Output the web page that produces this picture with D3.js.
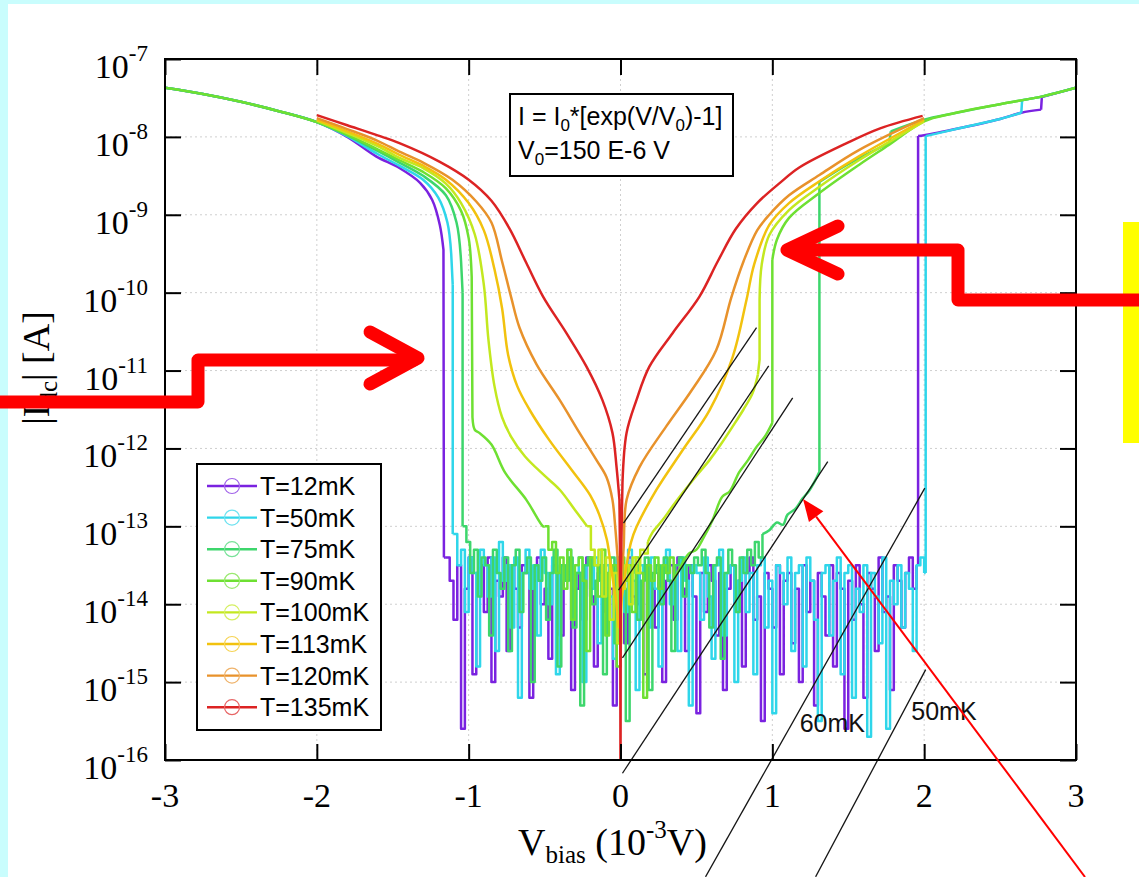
<!DOCTYPE html>
<html><head><meta charset="utf-8">
<script src="https://cdn.jsdelivr.net/npm/d3@7"></script>
<style>body{margin:0;background:#c9fdfd;} svg{display:block}</style>
</head><body><svg id="chart" width="1139" height="877"></svg>
<script>
// ---------------- DATA (log10 of |I| in A, V in mV) ----------------
const TEMPS = ["T=12mK","T=50mK","T=75mK","T=90mK","T=100mK","T=113mK","T=120mK","T=135mK"];
const COLORS = ["#7a22e0","#2fd6ea","#3dd66c","#6ee032","#c3e81f","#f2c20e","#e8922b","#dc2323"];
const X_TICKS = [-3,-2,-1,0,1,2,3];
const Y_EXPONENTS = [-16,-15,-14,-13,-12,-11,-10,-9,-8,-7];
const NOISE_STEP = 0.025;

const TOP_LEFT = [[-3,-7.37],[-2.75,-7.45],[-2.5,-7.55],[-2.25,-7.67],[-2.0,-7.81]];

const S12_LEFT = [[-1.8,-8.0],[-1.61,-8.25],[-1.456,-8.40],[-1.32,-8.59],[-1.24,-8.81],[-1.19,-9.13],[-1.166,-9.45],[-1.163,-13.4],[-1.15,-13.4]];
const NOISE12_START = -1.15;
const NOISE12 = [-13.4,-13.7,-14.2,-13.5,-15.6,-13.8,-13.4,-14.9,-13.6,-13.5,
 -14.1,-13.4,-15.0,-13.7,-13.9,-13.4,-14.6,-13.5,-13.8,-14.3,
 -13.5,-13.6,-15.2,-13.7,-13.4,-14.0,-13.8,-14.7,-13.5,-13.6,
 -14.4,-13.7,-13.5,-15.1,-13.8,-13.6,-14.2,-13.4,-13.9,-14.8,
 -13.6,-13.5,-14.1,-13.8,-15.3,-13.6,-13.7,-14.5,-13.4,-13.9,
 -14.0,-13.6,-14.9,-13.5,-13.8,-14.3,-13.6,-15.0,-13.7,-13.5,
 -14.2,-13.4,-13.8,-14.6,-13.5,-13.9,-15.4,-13.6,-14.1,-13.5,
 -13.7,-14.4,-13.6,-15.1,-13.8,-13.5,-14.0,-13.7,-14.8,-13.6,
 -13.4,-14.2,-13.9,-15.5,-13.6,-13.8,-14.3,-13.5,-14.9,-13.7,
 -13.6,-14.5,-13.8,-15.0,-13.5,-14.1,-13.7,-15.3,-13.6,-13.9,
 -14.4,-13.5,-14.8,-13.6,-13.8,-15.6,-13.7,-14.2,-13.5,-14.0,
 -15.2,-13.6,-13.8,-14.6,-13.4,-14.1,-13.9,-15.1,-13.5,-13.7,
 -14.3,-13.6,-13.4,-13.8,-13.5];
const S12_RIGHT = [[1.95,-13.5],[1.96,-13.5],[1.96,-7.99],[2.0,-7.98],[2.23,-7.89],[2.5,-7.77],[2.64,-7.69],[2.77,-7.65],[2.775,-7.49],[3.0,-7.37]];

const S50_LEFT = [[-1.8,-7.99],[-1.6,-8.22],[-1.456,-8.37],[-1.3,-8.55],[-1.2,-8.78],[-1.14,-9.1],[-1.115,-9.5],[-1.105,-9.9],[-1.105,-13.1],[-1.1,-13.1]];
const NOISE50_START = -1.1;
const NOISE50 = [-13.1,-13.5,-13.3,-14.1,-13.4,-13.6,-14.8,-13.3,-13.5,-13.9,
 -13.4,-14.6,-13.2,-13.7,-13.5,-14.3,-13.4,-15.2,-13.6,-13.3,
 -13.8,-13.5,-14.4,-13.3,-13.6,-14.0,-13.4,-14.9,-13.5,-13.7,
 -13.3,-14.2,-13.6,-13.4,-15.0,-13.5,-13.8,-13.4,-14.5,-13.6,
 -13.5,-13.9,-14.7,-13.4,-13.6,-14.1,-13.3,-13.7,-15.1,-13.5,
 -13.6,-14.3,-13.4,-13.8,-14.8,-13.5,-13.3,-14.0,-13.6,-14.6,
 -13.4,-13.7,-15.3,-13.5,-13.6,-14.2,-13.4,-13.9,-14.7,-13.5,
 -13.3,-14.4,-13.6,-13.5,-15.0,-13.7,-13.4,-14.1,-13.6,-14.9,
 -13.5,-13.4,-14.3,-13.7,-15.4,-13.5,-13.6,-14.0,-13.4,-14.6,
 -13.6,-13.5,-14.8,-13.4,-13.7,-14.2,-15.5,-13.6,-13.5,-14.4,
 -13.7,-13.4,-14.9,-13.6,-13.5,-15.2,-13.8,-14.1,-13.5,-15.7,
 -13.6,-13.9,-14.5,-13.4,-15.6,-13.7,-14.0,-13.5,-14.3,-13.6,
 -13.8,-14.6,-13.5,-13.4,-13.6];
const S50_RIGHT = [[2.0,-13.6],[2.01,-13.6],[2.01,-7.99],[2.23,-7.89],[2.5,-7.77],[2.64,-7.69],[2.645,-7.53],[2.78,-7.48],[3.0,-7.37]];

const S75_LEFT = [[-1.8,-7.98],[-1.6,-8.18],[-1.456,-8.33],[-1.3,-8.5],[-1.15,-8.75],[-1.08,-9.1],[-1.05,-9.6],[-1.04,-10.0],[-1.04,-13.0]];
const NOISE75_START = -1.04;
const NOISE75 = [-13.0,-13.2,-13.6,-13.3,-13.9,-13.4,-13.5,-14.4,-13.3,-13.6,
 -13.8,-13.4,-14.6,-13.5,-13.3,-14.1,-13.6,-13.4,-15.0,-13.5,
 -13.7,-13.4,-14.2,-13.6,-13.3,-14.8,-13.5,-13.7,-13.4,-14.3,
 -13.6,-15.3,-13.5,-13.4,-14.0,-13.7,-13.5,-14.9,-13.6,-13.4,
 -14.5,-13.5,-13.8,-15.5,-13.6,-13.5,-14.2,-13.7,-13.4,-15.1,
 -13.6,-13.5,-14.0,-13.4,-13.7,-14.6,-13.5,-13.4,-13.9,-13.5,
 -13.6,-13.4,-13.5,-13.3,-13.6,-14.3,-13.5,-13.4,-14.7,-13.6,
 -13.3,-13.5,-14.1,-13.4,-13.6,-13.3,-13.5,-13.2,-13.4,-13.1];
const S75_RIGHT = [[0.935,-13.1],[0.98,-13.05],[1.03,-12.95],[1.07,-12.98],[1.1,-12.85],[1.15,-12.78],[1.2,-12.64],[1.24,-12.55],[1.28,-12.42],[1.31,-12.3],[1.31,-8.58],[1.49,-8.36],[1.77,-8.08],[1.78,-7.93],[2.0,-7.78],[2.19,-7.70],[2.5,-7.58],[2.78,-7.48],[3.0,-7.37]];

const S90_LEFT = [[-1.8,-7.97],[-1.6,-8.16],[-1.456,-8.3],[-1.3,-8.45],[-1.15,-8.66],[-1.05,-8.95],[-1.0,-9.3],[-0.98,-9.8],[-0.975,-11.6],[-0.96,-11.76],[-0.93,-11.8],[-0.85,-11.95],[-0.76,-12.31],[-0.62,-12.66],[-0.51,-13.0],[-0.5,-13.0]];
const NOISE90_START = -0.5;
const NOISE90 = [-13.0,-13.3,-13.2,-13.6,-13.4,-13.8,-13.3,-14.2,-13.5,-13.4,
 -13.7,-14.6,-13.4,-13.5,-13.9,-13.3,-14.4,-13.6,-13.5,-14.8,
 -13.4,-13.7,-13.5,-14.1,-13.4,-13.6,-15.2,-13.5,-13.7,-13.4,
 -13.8,-13.5,-13.6,-13.4,-13.7];
const S90_RIGHT = [[0.35,-13.7],[0.4,-13.5],[0.45,-13.35],[0.5,-13.3],[0.54,-13.17],[0.606,-12.92],[0.67,-12.62],[0.72,-12.55],[0.78,-12.31],[0.84,-12.15],[0.896,-11.98],[0.95,-11.85],[1.0,-11.67],[1.0,-9.58],[1.03,-9.32],[1.11,-9.04],[1.31,-8.72],[1.57,-8.36],[1.77,-8.1],[2.0,-7.8],[2.19,-7.70],[2.5,-7.58],[2.78,-7.48],[3.0,-7.37]];

const S100_LEFT = [[-2,-7.79],[-1.8,-7.95],[-1.6,-8.12],[-1.456,-8.27],[-1.3,-8.4],[-1.15,-8.6],[-1.05,-8.85],[-0.96,-9.25],[-0.9,-9.9],[-0.87,-10.6],[-0.83,-11.2],[-0.78,-11.6],[-0.72,-11.85],[-0.63,-12.1],[-0.5,-12.35],[-0.4,-12.53],[-0.3,-12.79],[-0.22,-13.0]];
const NOISE100_START = -0.22;
const NOISE100 = [-13.0,-13.3,-13.5,-13.3,-13.9,-13.4,-14.2,-13.6,-14.5,-13.8,-13.5,-14.0,-13.4,-13.6,-13.3,-13.35,-13.2];
const S100_RIGHT = [[0.18,-13.2],[0.21,-13.08],[0.277,-12.92],[0.34,-12.75],[0.41,-12.57],[0.5,-12.35],[0.586,-12.15],[0.66,-11.95],[0.738,-11.72],[0.81,-11.5],[0.87,-11.29],[0.905,-11.05],[0.916,-10.86],[0.916,-10.09],[0.93,-9.64],[0.98,-9.26],[1.11,-8.94],[1.31,-8.64],[1.57,-8.30],[2.0,-7.80]];

const S113 = [[-2,-7.78],[-1.8,-7.93],[-1.6,-8.09],[-1.456,-8.23],[-1.3,-8.37],[-1.15,-8.55],[-1.0,-8.85],[-0.9,-9.2],[-0.83,-9.7],[-0.78,-10.2],[-0.74,-10.8],[-0.68,-11.2],[-0.6,-11.5],[-0.47,-11.89],[-0.32,-12.28],[-0.2,-12.6],[-0.14,-12.85],[-0.09,-13.17],[-0.06,-13.56],[-0.03,-13.94],[-0.01,-14.3],[0.01,-13.9],[0.04,-13.5],[0.07,-13.2],[0.105,-13.01],[0.237,-12.53],[0.41,-12.02],[0.586,-11.51],[0.738,-10.83],[0.83,-10.09],[0.88,-9.64],[0.98,-9.13],[1.11,-8.85],[1.31,-8.57],[1.57,-8.25],[2.0,-7.78]];

const S120 = [[-2,-7.76],[-1.8,-7.9],[-1.6,-8.05],[-1.456,-8.19],[-1.3,-8.33],[-1.107,-8.55],[-0.95,-8.83],[-0.85,-9.1],[-0.78,-9.6],[-0.72,-10.06],[-0.665,-10.45],[-0.553,-10.92],[-0.40,-11.38],[-0.27,-11.80],[-0.158,-12.15],[-0.092,-12.37],[-0.053,-12.66],[-0.033,-13.05],[-0.015,-13.5],[0.0,-13.8],[0.02,-13.3],[0.04,-12.66],[0.125,-12.24],[0.30,-11.72],[0.47,-11.25],[0.63,-10.74],[0.73,-10.06],[0.81,-9.6],[0.9,-9.2],[0.98,-9.0],[1.11,-8.75],[1.31,-8.49],[1.57,-8.17],[2.0,-7.76]];

const S135 = [[-2,-7.72],[-1.8,-7.85],[-1.6,-7.98],[-1.456,-8.08],[-1.19,-8.32],[-1.0,-8.55],[-0.85,-8.82],[-0.73,-9.18],[-0.62,-9.62],[-0.51,-10.05],[-0.356,-10.52],[-0.224,-10.95],[-0.119,-11.38],[-0.053,-11.80],[-0.026,-12.24],[-0.007,-12.66],[-0.002,-13.6],[0,-16.5],[0.002,-13.6],[0.013,-12.44],[0.04,-11.80],[0.105,-11.38],[0.19,-10.95],[0.343,-10.52],[0.52,-10.05],[0.64,-9.6],[0.76,-9.18],[0.9,-8.85],[1.05,-8.59],[1.18,-8.39],[1.49,-8.08],[1.71,-7.89],[1.99,-7.73]];

// exponential fits (V in mV, log10 I)
const FIT_LINES = [
  [[0.02,-12.96],[0.896,-10.45]],
  [[-0.013,-13.82],[0.976,-10.94]],
  [[0.013,-14.69],[1.134,-11.35]],
  [[0.013,-16.17],[1.365,-12.17]],
  [[0.56,-17.50],[2.004,-12.51]],
  [[1.285,-17.50],[2.01,-14.84]]
];
const FIT_LABELS = [["60mK",1.18,-15.64],["50mK",1.915,-15.49]];

// ---------------- CHART ----------------
const W = 1139, H = 877;
const svg = d3.select("#chart");
const M = {l:165, r:1076, t:59, b:760};
const x = d3.scaleLinear().domain([-3,3]).range([M.l, M.r]);
const y = d3.scaleLog().domain([1e-16,1e-7]).range([M.b, M.t]);
const px = d => x(d[0]), py = d => y(Math.pow(10, d[1]));
const lineLin = d3.line().x(px).y(py);
const lineSmooth = d3.line().x(px).y(py).curve(d3.curveCatmullRom.alpha(0.5));
const lineStep = d3.line().x(px).y(py).curve(d3.curveStepAfter);
const noisePts = (start, arr) => arr.map((v,i) => [start + i*NOISE_STEP, v]);

// split a point list at vertical jumps: smooth runs + straight vertical pieces
function smoothWithJumps(pts) {
  const out = [];
  let run = [pts[0]];
  for (let i = 1; i < pts.length; i++) {
    const a = pts[i-1], b = pts[i];
    if (Math.abs(b[0]-a[0]) < 0.012 && Math.abs(b[1]-a[1]) > 0.1) {
      if (run.length > 1) out.push(lineSmooth(run));
      out.push(lineLin([a,b]));
      run = [b];
    } else run.push(b);
  }
  if (run.length > 1) out.push(lineSmooth(run));
  return out.join("");
}

svg.append("rect").attr("width",W).attr("height",H).attr("fill","#c9fdfd");
svg.append("rect").attr("x",8).attr("y",4).attr("width",W-8).attr("height",H-4).attr("fill","#fff");

// grid
const grid = svg.append("g").attr("stroke","#cfcfcf").attr("stroke-width",1).attr("stroke-dasharray","2,3");
X_TICKS.slice(1,-1).forEach(v => grid.append("line").attr("x1",x(v)).attr("x2",x(v)).attr("y1",M.t).attr("y2",M.b));
Y_EXPONENTS.slice(1,-1).forEach(e => grid.append("line").attr("x1",M.l).attr("x2",M.r).attr("y1",y(Math.pow(10,e))).attr("y2",y(Math.pow(10,e))));

// curves
svg.append("clipPath").attr("id","clip").append("rect").attr("x",M.l).attr("y",M.t).attr("width",M.r-M.l).attr("height",M.b-M.t);
const cg = svg.append("g").attr("clip-path","url(#clip)").attr("fill","none").attr("stroke-width",2.5).attr("stroke-linejoin","round");

const series = [
  [{p:TOP_LEFT.concat(S12_LEFT)}, {n:noisePts(NOISE12_START, NOISE12)}, {p:S12_RIGHT}],
  [{p:TOP_LEFT.concat(S50_LEFT)}, {n:noisePts(NOISE50_START, NOISE50)}, {p:S50_RIGHT}],
  [{p:TOP_LEFT.concat(S75_LEFT)}, {n:noisePts(NOISE75_START, NOISE75)}, {p:S75_RIGHT}],
  [{p:TOP_LEFT.concat(S90_LEFT)}, {n:noisePts(NOISE90_START, NOISE90)}, {p:S90_RIGHT}],
  [{p:S100_LEFT}, {n:noisePts(NOISE100_START, NOISE100)}, {p:S100_RIGHT}],
  [{p:S113}],
  [{p:S120}],
  [{p:S135}]
];
series.forEach((segs, i) => {
  segs.forEach(s => cg.append("path")
    .attr("d", s.n ? lineStep(s.n) : smoothWithJumps(s.p))
    .attr("stroke", COLORS[i]));
});

// fit lines
const fg = svg.append("g").attr("stroke","#151515").attr("stroke-width",1.3).attr("fill","none");
FIT_LINES.forEach(l => fg.append("path").attr("d", lineLin(l)));

// frame and ticks
const ax = svg.append("g").attr("stroke","#000").attr("stroke-width",2);
const tickAxis = (gen, tr) => {
  const g = svg.append("g").attr("transform", tr).call(gen);
  g.select(".domain").remove();
  g.selectAll(".tick line").attr("stroke","#000").attr("stroke-width",2);
  g.selectAll(".tick text").remove();
};
const yTicks = Y_EXPONENTS.map(e => Math.pow(10,e));
tickAxis(d3.axisBottom(x).tickValues(X_TICKS).tickSize(-16), `translate(0,${M.b})`);
tickAxis(d3.axisTop(x).tickValues(X_TICKS).tickSize(-16), `translate(0,${M.t})`);
tickAxis(d3.axisLeft(y).tickValues(yTicks).tickSize(-16), `translate(${M.l},0)`);
tickAxis(d3.axisRight(y).tickValues(yTicks).tickSize(-16), `translate(${M.r},0)`);
ax.append("rect").attr("x",M.l).attr("y",M.t).attr("width",M.r-M.l).attr("height",M.b-M.t).attr("fill","none");

// tick labels
const serif = "'Liberation Serif','Times New Roman',serif";
const sans = "'Liberation Sans',Arial,sans-serif";
X_TICKS.forEach(v => svg.append("text").attr("x",x(v)).attr("y",807).attr("text-anchor","middle")
  .attr("font-family",serif).attr("font-size",34).text(String(v)));
Y_EXPONENTS.forEach(e => {
  const t = svg.append("text").attr("x",148).attr("y",y(Math.pow(10,e))+19).attr("text-anchor","end")
    .attr("font-family",serif).attr("font-size",34);
  t.append("tspan").text("10");
  t.append("tspan").attr("dy",-17).attr("font-size",23).text(String(e));
});

// axis titles
const xt = svg.append("text").attr("x",518).attr("y",855).attr("font-family",serif).attr("font-size",38);
xt.append("tspan").text("V");
xt.append("tspan").attr("dy",8).attr("font-size",25).text("bias");
xt.append("tspan").attr("dy",-8).text(" (10");
xt.append("tspan").attr("dy",-17).attr("font-size",25).text("-3");
xt.append("tspan").attr("dy",17).text("V)");

const yt = svg.append("text").attr("transform","translate(49,368) rotate(-90)").attr("text-anchor","middle")
  .attr("font-family",serif).attr("font-size",38);
yt.append("tspan").text("|I");
yt.append("tspan").attr("dy",8).attr("font-size",25).text("dc");
yt.append("tspan").attr("dy",-8).text("| [A]");

// legend
const lg = svg.append("g");
lg.append("rect").attr("x",197).attr("y",464).attr("width",184).attr("height",266).attr("fill","#fff").attr("stroke","#000").attr("stroke-width",2);
TEMPS.forEach((t,i) => {
  const cy = 486 + i*31.6;
  lg.append("line").attr("x1",207).attr("x2",257).attr("y1",cy).attr("y2",cy).attr("stroke",COLORS[i]).attr("stroke-width",2.4);
  lg.append("circle").attr("cx",232).attr("cy",cy).attr("r",7.5).attr("fill","none")
    .attr("stroke",d3.interpolateRgb(COLORS[i],"#ffffff")(0.3)).attr("stroke-width",1.2);
  lg.append("text").attr("x",260).attr("y",cy+9).attr("font-family",sans).attr("font-size",25).text(t);
});

// formula box
svg.append("rect").attr("x",510).attr("y",94).attr("width",223).attr("height",82).attr("fill","#fff").attr("stroke","#000").attr("stroke-width",2);
const f1 = svg.append("text").attr("x",518).attr("y",125).attr("font-family",sans).attr("font-size",25);
f1.append("tspan").text("I = I");
f1.append("tspan").attr("dy",6).attr("font-size",17).text("0");
f1.append("tspan").attr("dy",-6).text("*[exp(V/V");
f1.append("tspan").attr("dy",6).attr("font-size",17).text("0");
f1.append("tspan").attr("dy",-6).text(")-1]");
const f2 = svg.append("text").attr("x",518).attr("y",159).attr("font-family",sans).attr("font-size",25);
f2.append("tspan").text("V");
f2.append("tspan").attr("dy",6).attr("font-size",17).text("0");
f2.append("tspan").attr("dy",-6).text("=150 E-6 V");

// fit labels
FIT_LABELS.forEach(l => svg.append("text").attr("x",x(l[1])).attr("y",y(Math.pow(10,l[2])))
  .attr("font-family",sans).attr("font-size",25).attr("fill","#111").text(l[0]));

// annotations: yellow bar and red arrows
svg.append("rect").attr("x",1123).attr("y",222).attr("width",16).attr("height",221).attr("fill","#ffff00");
const red = "#ff0000";
const poly = d3.line();
const thick = svg.append("g").attr("fill","none").attr("stroke",red).attr("stroke-width",13)
  .attr("stroke-linejoin","round").attr("stroke-linecap","round");
thick.append("path").attr("d", poly([[-10,402],[198,402],[198,360],[414,360]]));
thick.append("path").attr("d", poly([[370,332],[418,358],[370,384]]));
thick.append("path").attr("d", poly([[1150,300],[958,300],[958,250],[792,250]]));
thick.append("path").attr("d", poly([[838,226],[787,250],[838,274]]));

const tail = [1085,877], tip = [803,499];
const dx = tip[0]-tail[0], dy = tip[1]-tail[1], len = Math.hypot(dx,dy);
const ux = dx/len, uy = dy/len, hl = 22, hw = 9;
const base = [tip[0]-ux*hl, tip[1]-uy*hl];
svg.append("line").attr("x1",tail[0]).attr("y1",tail[1]).attr("x2",base[0]).attr("y2",base[1]).attr("stroke",red).attr("stroke-width",2);
svg.append("path").attr("fill",red).attr("d", poly([tip,[base[0]-uy*hw, base[1]+ux*hw],[base[0]+uy*hw, base[1]-ux*hw]]) + "Z");
</script></body></html>
